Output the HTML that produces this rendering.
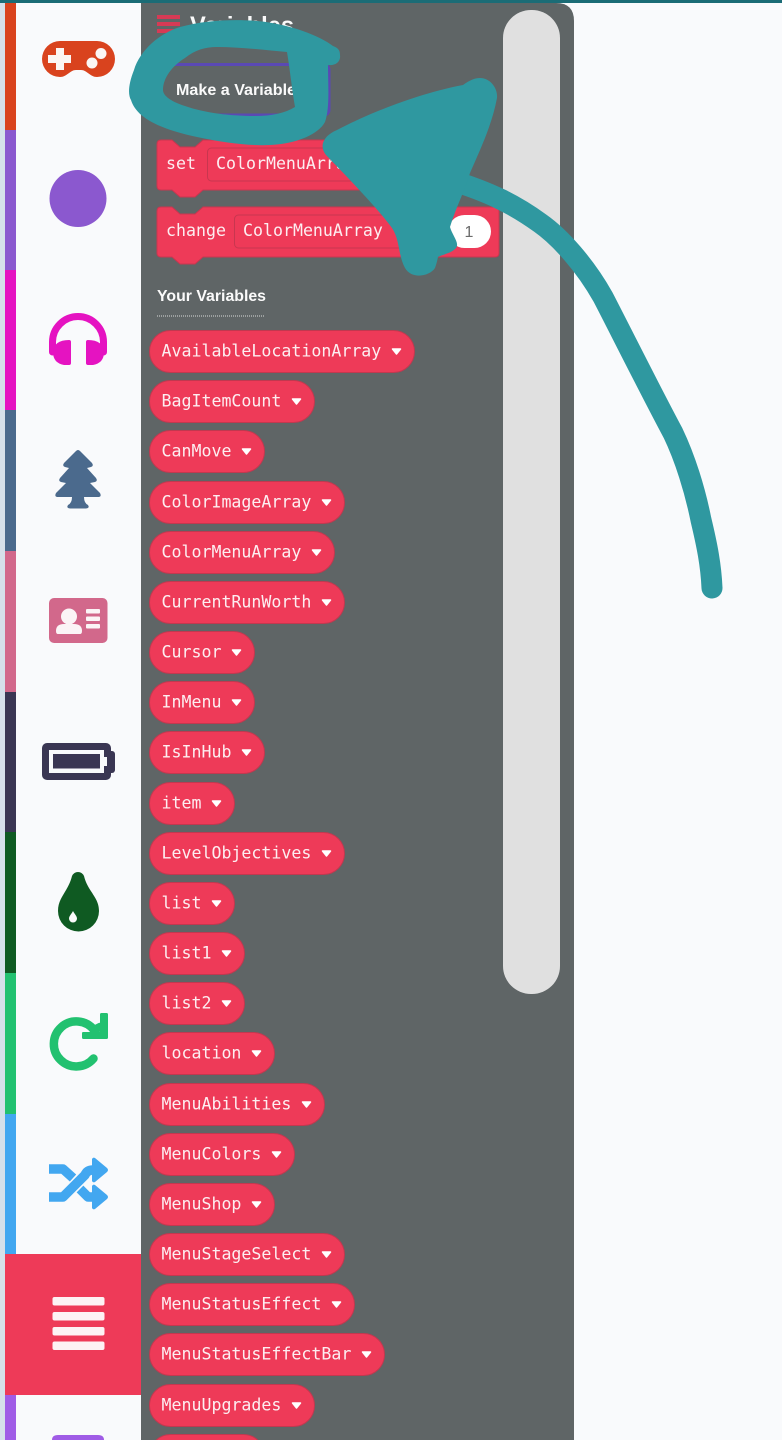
<!DOCTYPE html>
<html><head><meta charset="utf-8"><style>
html,body{margin:0;padding:0;width:782px;height:1440px;overflow:hidden;background:#f9fafc}
svg{display:block}
.m{font-family:"DejaVu Sans Mono","Liberation Mono",monospace;font-size:16.6px;fill:#fdeef1}
.b{font-family:"Liberation Sans",sans-serif;font-weight:bold;fill:#fafafa}
</style></head><body>
<svg width="782" height="1440" viewBox="0 0 782 1440" xmlns="http://www.w3.org/2000/svg">
<rect width="782" height="1440" fill="#f9fafc"/>
<rect x="0" y="0" width="5" height="1440" fill="#d6e0ea"/>
<rect x="5" y="3" width="11" height="127" fill="#d9431e"/>
<rect x="5" y="130" width="11" height="140" fill="#8b58cf"/>
<rect x="5" y="270" width="11" height="140" fill="#e513c1"/>
<rect x="5" y="410" width="11" height="141" fill="#4b6a8d"/>
<rect x="5" y="551" width="11" height="141" fill="#d2688b"/>
<rect x="5" y="692" width="11" height="140" fill="#3a3653"/>
<rect x="5" y="832" width="11" height="141" fill="#0f5a22"/>
<rect x="5" y="973" width="11" height="141" fill="#22c170"/>
<rect x="5" y="1114" width="11" height="140" fill="#42a7f0"/>
<rect x="5" y="1395" width="11" height="45" fill="#a05ce6"/>
<rect x="5" y="1254" width="136" height="141" fill="#ee3a58"/>
<path d="M141 3H556Q574 3 574 21V1440H141Z" fill="#5f6566"/>
<rect x="0" y="0" width="782" height="3" fill="#1b6c76"/>

<!-- gamepad -->
<path d="M60 41H97A18 18 0 0 1 97 77C90 77 87 70 81 70H76C70 70 67 77 60 77A18 18 0 0 1 60 41Z" fill="#d9431e"/>
<path d="M56 48H64V55H71V63H64V70H56V63H48V55H56Z" fill="#fbf6f4"/>
<circle cx="101" cy="53.500" r="5.500" fill="#fbf6f4"/><circle cx="92" cy="63" r="5.500" fill="#fbf6f4"/>
<!-- circle -->
<circle cx="78" cy="198.500" r="28.500" fill="#8b58cf"/>
<!-- headphones -->
<path d="M52.500 352V342A25.500 25.500 0 0 1 103.500 342V352" fill="none" stroke="#e513c1" stroke-width="7" stroke-linecap="round"/>
<path d="M69 340Q71 340 71 342V363Q71 365 69 365H64Q53 363 53 352Q54 340 69 340Z" fill="#e513c1"/>
<path d="M88 340Q86 340 86 342V363Q86 365 88 365H93Q104 363 104 352Q103 340 88 340Z" fill="#e513c1"/>
<!-- tree -->
<path d="M78 450Q79 450 80 451L92 463Q94 466 91 467L87 468L96 478Q98 481 95 482L90 483L100 493Q102 497 98 497H84Q84 503 88 505Q90 508 86 508.500H70Q66 508 68 505Q72 503 72 497H58Q54 497 56 493L66 483L61 482Q58 481 60 478L69 468L65 467Q62 466 64 463L76 451Q77 450 78 450Z" fill="#4b6a8d"/>
<!-- id card -->
<rect x="49" y="598" width="58.500" height="45" rx="5" fill="#d2688b"/>
<circle cx="69" cy="616.500" r="8" fill="#fbf4f6"/>
<path d="M56 631Q56 624 64 624H74Q82 624 82 631Q82 634 80 634H58Q56 634 56 631Z" fill="#fbf4f6"/>
<rect x="86" y="609" width="14" height="4.500" rx="1" fill="#fbf4f6"/>
<rect x="86" y="616.500" width="14" height="4.500" rx="1" fill="#fbf4f6"/>
<rect x="86" y="624" width="14" height="4.500" rx="1" fill="#fbf4f6"/>
<!-- battery -->
<rect x="42" y="743" width="69" height="37" rx="5" fill="#3a3653"/>
<rect x="106" y="751" width="9" height="22" rx="3" fill="#3a3653"/>
<rect x="49" y="750" width="55" height="23" fill="#f9fafc"/>
<rect x="53" y="754" width="47" height="14.500" fill="#3a3653"/>
<rect x="104" y="757" width="3" height="9" fill="#f9fafc"/>
<!-- drop -->
<path d="M78 872Q82 872 84 876C88 892 99 897 99 911A20.500 20.500 0 0 1 58 911C58 897 68 892 72 876Q74 872 78 872Z" fill="#0f5a22"/>
<path d="M73 911C74.500 914 77 916 77 918.500A4 4 0 0 1 69 918.500C69 916 71.500 914 73 911Z" fill="#fbfbfb"/>
<!-- refresh -->
<path d="M93.500 1058.500A22.500 22.500 0 1 1 94 1030L100 1027" fill="none" stroke="#22c170" stroke-width="8.500" stroke-linecap="round"/>
<path d="M83 1032H100V1014.500Q100 1013 101.500 1013H106.500Q108 1013 108 1014.500V1037.500Q108 1039 106.500 1039H83.500Q82 1039 82 1037.500V1033.500Q82 1032 83 1032Z" fill="#22c170"/>
<!-- shuffle -->
<g fill="none" stroke="#42a7f0" stroke-width="9.500" stroke-linejoin="round">
<path d="M49 1169H63L73 1178"/><path d="M49 1197H63L85 1175Q87 1170 93 1170H98"/><path d="M80 1189L88 1197H98"/>
</g>
<path d="M92 1159Q93 1157 95 1158L107 1168Q109 1170 107 1172L95 1182Q93 1183 92 1181Z" fill="#42a7f0"/>
<path d="M92 1186Q93 1184 95 1185L107 1195Q109 1197 107 1199L95 1209Q93 1210 92 1208Z" fill="#42a7f0"/>
<!-- hamburger -->
<g fill="#fdf2f4">
<rect x="52.500" y="1297" width="52" height="8.500" rx="2"/>
<rect x="52.500" y="1312" width="52" height="8.500" rx="2"/>
<rect x="52.500" y="1327" width="52" height="8.500" rx="2"/>
<rect x="52.500" y="1341.500" width="52" height="8.500" rx="2"/>
</g>
<path d="M52 1440Q52 1435 58 1435H98Q104 1435 104 1440Z" fill="#a05ce6"/>

<!-- scrollbar -->
<rect x="503" y="10" width="57" height="984" rx="28" fill="#e0e0e0"/>

<!-- header -->
<g fill="#d63a55"><rect x="157" y="15" width="23" height="4"/><rect x="157" y="22" width="23" height="4"/><rect x="157" y="29" width="23" height="4"/></g>
<text x="190" y="34" class="b" font-size="25" textLength="104" lengthAdjust="spacingAndGlyphs">Variables</text>
<rect x="161" y="64.500" width="168" height="50.500" rx="5" fill="none" stroke="#5a49b4" stroke-width="3"/>
<text x="176" y="95" class="b" font-size="16" textLength="120" lengthAdjust="spacingAndGlyphs">Make a Variable</text>

<!-- blocks -->
<path d="M161 140H172L180 147H195L203 140H430Q434 140 434 144V186Q434 190 430 190H203L195 197H180L172 190H161Q157 190 157 186V144Q157 140 161 140Z" fill="#ee3a58" stroke="#c8364f" stroke-width="1"/>
<rect x="207.500" y="148" width="210" height="33" rx="4" fill="#ee3a58" stroke="#c8364f"/>
<text x="166" y="169" class="m">set</text>
<text x="216" y="169" class="m">ColorMenuArray</text>
<path d="M161 207H172L180 214H195L203 207H495Q499 207 499 211V253Q499 257 495 257H203L195 264H180L172 257H161Q157 257 157 253V211Q157 207 161 207Z" fill="#ee3a58" stroke="#c8364f" stroke-width="1"/>
<rect x="234.500" y="215" width="180" height="33" rx="4" fill="#ee3a58" stroke="#c8364f"/>
<text x="166" y="236" class="m">change</text>
<text x="243" y="236" class="m">ColorMenuArray</text>
<rect x="448" y="215" width="43" height="33" rx="16.500" fill="#fff"/>
<text x="469" y="237" font-family="Liberation Sans,sans-serif" font-size="16" fill="#6b6b6b" text-anchor="middle">1</text>

<text x="157" y="301" class="b" font-size="16" textLength="109" lengthAdjust="spacingAndGlyphs">Your Variables</text>
<line x1="157" y1="316" x2="265" y2="316" stroke="#d8dada" stroke-width="1" stroke-dasharray="1 1"/>

<!-- pills -->
<g fill="#ee3a58" stroke="#c2384f" stroke-width="1">
<rect x="149.500" y="330.500" width="265" height="42" rx="21"/>
<rect x="149.500" y="380.500" width="165" height="42" rx="21"/>
<rect x="149.500" y="430.500" width="115" height="42" rx="21"/>
<rect x="149.500" y="481.500" width="195" height="42" rx="21"/>
<rect x="149.500" y="531.500" width="185" height="42" rx="21"/>
<rect x="149.500" y="581.500" width="195" height="42" rx="21"/>
<rect x="149.500" y="631.500" width="105" height="42" rx="21"/>
<rect x="149.500" y="681.500" width="105" height="42" rx="21"/>
<rect x="149.500" y="731.500" width="115" height="42" rx="21"/>
<rect x="149.500" y="782.500" width="85" height="42" rx="21"/>
<rect x="149.500" y="832.500" width="195" height="42" rx="21"/>
<rect x="149.500" y="882.500" width="85" height="42" rx="21"/>
<rect x="149.500" y="932.500" width="95" height="42" rx="21"/>
<rect x="149.500" y="982.500" width="95" height="42" rx="21"/>
<rect x="149.500" y="1032.500" width="125" height="42" rx="21"/>
<rect x="149.500" y="1083.500" width="175" height="42" rx="21"/>
<rect x="149.500" y="1133.500" width="145" height="42" rx="21"/>
<rect x="149.500" y="1183.500" width="125" height="42" rx="21"/>
<rect x="149.500" y="1233.500" width="195" height="42" rx="21"/>
<rect x="149.500" y="1283.500" width="205" height="42" rx="21"/>
<rect x="149.500" y="1333.500" width="235" height="42" rx="21"/>
<rect x="149.500" y="1384.500" width="165" height="42" rx="21"/>
<rect x="149.500" y="1434.500" width="115" height="42" rx="21"/>
</g>
<g class="m">
<text class="m" x="161.500" y="356.500">AvailableLocationArray</text>
<text class="m" x="161.500" y="406.500">BagItemCount</text>
<text class="m" x="161.500" y="456.500">CanMove</text>
<text class="m" x="161.500" y="507.500">ColorImageArray</text>
<text class="m" x="161.500" y="557.500">ColorMenuArray</text>
<text class="m" x="161.500" y="607.500">CurrentRunWorth</text>
<text class="m" x="161.500" y="657.500">Cursor</text>
<text class="m" x="161.500" y="707.500">InMenu</text>
<text class="m" x="161.500" y="757.500">IsInHub</text>
<text class="m" x="161.500" y="808.500">item</text>
<text class="m" x="161.500" y="858.500">LevelObjectives</text>
<text class="m" x="161.500" y="908.500">list</text>
<text class="m" x="161.500" y="958.500">list1</text>
<text class="m" x="161.500" y="1008.500">list2</text>
<text class="m" x="161.500" y="1058.500">location</text>
<text class="m" x="161.500" y="1109.500">MenuAbilities</text>
<text class="m" x="161.500" y="1159.500">MenuColors</text>
<text class="m" x="161.500" y="1209.500">MenuShop</text>
<text class="m" x="161.500" y="1259.500">MenuStageSelect</text>
<text class="m" x="161.500" y="1309.500">MenuStatusEffect</text>
<text class="m" x="161.500" y="1359.500">MenuStatusEffectBar</text>
<text class="m" x="161.500" y="1410.500">MenuUpgrades</text>
</g>
<g fill="#fff" stroke="#fff" stroke-width="1.500" stroke-linejoin="round">
<path d="M392.500 349H400.500L396.500 354Z"/>
<path d="M292.500 399H300.500L296.500 404Z"/>
<path d="M242.500 449H250.500L246.500 454Z"/>
<path d="M322.500 500H330.500L326.500 505Z"/>
<path d="M312.500 550H320.500L316.500 555Z"/>
<path d="M322.500 600H330.500L326.500 605Z"/>
<path d="M232.500 650H240.500L236.500 655Z"/>
<path d="M232.500 700H240.500L236.500 705Z"/>
<path d="M242.500 750H250.500L246.500 755Z"/>
<path d="M212.500 801H220.500L216.500 806Z"/>
<path d="M322.500 851H330.500L326.500 856Z"/>
<path d="M212.500 901H220.500L216.500 906Z"/>
<path d="M222.500 951H230.500L226.500 956Z"/>
<path d="M222.500 1001H230.500L226.500 1006Z"/>
<path d="M252.500 1051H260.500L256.500 1056Z"/>
<path d="M302.500 1102H310.500L306.500 1107Z"/>
<path d="M272.500 1152H280.500L276.500 1157Z"/>
<path d="M252.500 1202H260.500L256.500 1207Z"/>
<path d="M322.500 1252H330.500L326.500 1257Z"/>
<path d="M332.500 1302H340.500L336.500 1307Z"/>
<path d="M362.500 1352H370.500L366.500 1357Z"/>
<path d="M292.500 1403H300.500L296.500 1408Z"/>
</g>

<!-- scribbles -->
<path fill-rule="evenodd" fill="#2f98a0" d="M333 46C320 36 290 24 257 21C235 19 205 20 180 27C160 33 140 50 134 70C128 85 128 95 131 100C136 116 155 128 197 137C225 143 250 146 270 145C295 144 318 135 325 122C330 108 328 85 328 65C335 66 341 62 340 55C340 50 338 48 333 46ZM163 90C163 78 172 66 185 58C195 50 205 47 217 47C240 47 265 50 287 52C290 70 292 90 295 107C285 113 272 116 255 116C230 116 205 113 185 106C172 102 163 96 163 90Z"/>
<path fill="none" stroke="#2f98a0" stroke-width="21" stroke-linecap="round" stroke-linejoin="round" d="M450 180C490 192 515 205 540 223C560 237 585 265 603 297C615 320 650 390 673 433C685 458 695 490 701 520C707 545 711 565 712 588"/>
<path fill="#2f98a0" d="M480 78C490 78 498 88 497 98C492 125 480 150 470 173C465 190 455 210 450 227C452 235 460 243 456 248C452 253 444 254 438 257C437 262 436 265 435 268C430 276 412 280 405 268C398 255 400 240 392 228C375 205 345 175 326 155C318 145 325 135 337 130C375 110 425 92 463 85C470 80 475 78 480 78Z"/>
</svg>
</body></html>
